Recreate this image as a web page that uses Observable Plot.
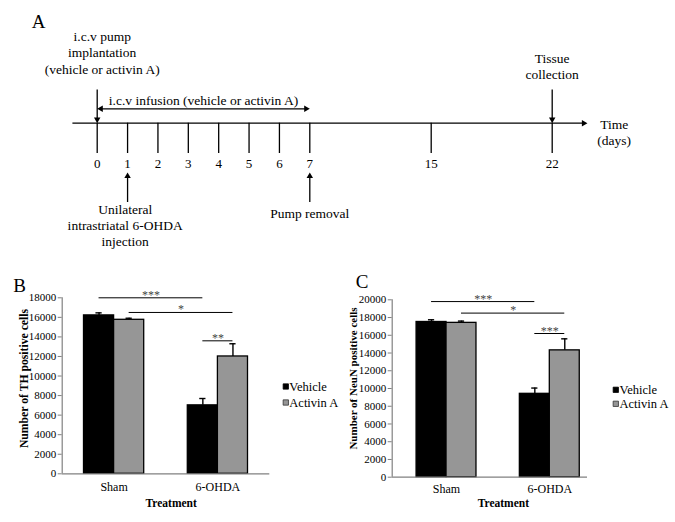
<!DOCTYPE html>
<html><head><meta charset="utf-8">
<script src="https://cdn.jsdelivr.net/npm/d3@7"></script>
<script src="https://cdn.jsdelivr.net/npm/@observablehq/plot@0.6"></script>
<style>
body{margin:0;background:#fff;}
#fig{position:relative;width:675px;height:522px;overflow:hidden;background:#fff;}
#fig .panel{position:absolute;}
#fig svg, #fig svg text{font-family:"Liberation Serif","Times New Roman",Times,serif;}
</style></head><body><div id="fig"></div>
<script>
// ---------- Panel A: timeline data ----------
const timelineDays = [0, 1, 2, 3, 4, 5, 6, 7, 15, 22];
const timelineKnots = [0, 7, 15, 22];
const eventsAbove = [
  {day: 0, text: "i.c.v pump\nimplantation\n(vehicle or activin A)"},
  {day: 22, text: "Tissue\ncollection"}
];
const eventsBelow = [
  {day: 1, text: "Unilateral\nintrastriatal 6-OHDA\ninjection"},
  {day: 7, text: "Pump removal"}
];
const infusion = {start: 0, end: 7, text: "i.c.v infusion (vehicle or activin A)"};
const timeAxisTitle = "Time\n(days)";

// ---------- Panels B, C: bar data ----------
const treatments = ["Sham", "6-OHDA"];
const groups = ["Vehicle", "Activin A"];
const thVehicle = [16200, 7000];
const thActivin = [15750, 12000];
const thVehicleErr = [260, 700];
const thActivinErr = [160, 1300];
const neunVehicle = [17500, 9400];
const neunActivin = [17400, 14300];
const neunVehicleErr = [250, 650];
const neunActivinErr = [200, 1300];
const sigPairs = [
  [["Sham", "Vehicle"], ["6-OHDA", "Vehicle"]],
  [["Sham", "Activin A"], ["6-OHDA", "Activin A"]],
  [["6-OHDA", "Vehicle"], ["6-OHDA", "Activin A"]]
];
const thSigLevels = [18000, 16500, 13600];
const thSigLabels = ["***", "*", "**"];
const neunSigLevels = [19800, 18500, 16200];
const neunSigLabels = ["***", "*", "***"];

const STYLE = "font-family:'Liberation Serif','Times New Roman',Times,serif;background:transparent;overflow:visible;color:black;";
const fig = document.getElementById("fig");
function mount(node, left, top) {
  const d = document.createElement("div");
  d.className = "panel"; d.style.left = left + "px"; d.style.top = top + "px";
  d.appendChild(node); fig.appendChild(d);
}

// triangle arrowhead helper (tip offset from centroid)
const headR = 2.4;
const tipOff = 2 * Math.sqrt(Math.PI * headR * headR / (3 * Math.sqrt(3)));
function head(data, opts) {
  return Plot.dot(data, {symbol: "triangle", r: headR, fill: "black", stroke: "none", ...opts});
}

// ---------- Panel A ----------
const LA = {
  knotPx: [96.7, 309.3, 430.7, 551.7],
  axisY: 122.7, axisFrom: -0.8, axisTo: 24.04,
  tickBottom: 153, tickLabelY: 163,
  aboveTop: 89.5, belowTip: 172, belowBottom: 202,
  infusionY: 108.3, infusionTextY: 99.5,
  aboveBase: {0: 73, 22: 78.5}, aboveDx: {0: 5, 22: 0},
  belowTop: {1: 201.8, 7: 205.8}, belowDx: {1: -2.4, 7: 0}
};
const txtA = {fontSize: 13.5, fill: "black", lineHeight: 1.2, textAnchor: "middle"};
const plotA = Plot.plot({
  width: 675, height: 270, margin: 0,
  x: {type: "linear", domain: timelineKnots, range: LA.knotPx, axis: null},
  y: {type: "identity", axis: null},
  style: STYLE,
  marks: [
    Plot.ruleY([LA.axisY], {x1: LA.axisFrom, x2: LA.axisTo, strokeWidth: 1.3, insetRight: 3}),
    head([LA.axisTo], {x: d => d, y: LA.axisY, rotate: 90, dx: -tipOff}),
    Plot.ruleX(timelineDays, {x: d => d, y1: LA.axisY, y2: LA.tickBottom, strokeWidth: 1.3}),
    Plot.text(timelineDays, {x: d => d, y: LA.tickLabelY, text: d => String(d), fontSize: 13, fill: "black"}),
    Plot.ruleX(eventsAbove, {x: "day", y1: LA.aboveTop, y2: LA.axisY - 3, strokeWidth: 1.3}),
    head(eventsAbove, {x: "day", y: LA.axisY, rotate: 180, dy: -tipOff}),
    Plot.ruleX(eventsBelow, {x: "day", y1: LA.belowTip + 3, y2: LA.belowBottom, strokeWidth: 1.3}),
    head(eventsBelow, {x: "day", y: LA.belowTip, rotate: 0, dy: tipOff}),
    Plot.ruleY([infusion], {y: LA.infusionY, x1: "start", x2: "end", strokeWidth: 1.3, insetLeft: 3, insetRight: 3}),
    head([infusion], {x: "start", y: LA.infusionY, rotate: -90, dx: tipOff}),
    head([infusion], {x: "end", y: LA.infusionY, rotate: 90, dx: -tipOff}),
    Plot.text([infusion], {x: d => (d.start + d.end) / 2, y: LA.infusionTextY, text: "text", ...txtA}),
    ...eventsAbove.map(e => Plot.text([e], {x: "day", y: LA.aboveBase[e.day], dx: LA.aboveDx[e.day], text: "text", lineAnchor: "bottom", ...txtA})),
    ...eventsBelow.map(e => Plot.text([e], {x: "day", y: LA.belowTop[e.day], dx: LA.belowDx[e.day], text: "text", lineAnchor: "top", ...txtA})),
    Plot.text([timeAxisTitle], {x: 22, y: 116.8, dx: 62, text: d => d, lineAnchor: "top", ...txtA}),
    Plot.text(["A"], {frameAnchor: "top-left", dx: 38, dy: 21, text: d => d, fontSize: 19, fill: "black", textAnchor: "middle", lineAnchor: "middle"})
  ]
});
mount(plotA, 0, 0);

// ---------- Panels B and C ----------
const barW = 0.29;
const barColors = ["#000000", "#969696"];
const center = (t, g) => treatments.indexOf(t) + (groups.indexOf(g) - 0.5) * barW;

function barPanel(c) {
  const rows = [];
  treatments.forEach((t, i) => {
    rows.push({t, i, g: groups[0], gi: 0, value: c.vehicle[i], err: c.vehicleErr[i]});
    rows.push({t, i, g: groups[1], gi: 1, value: c.activin[i], err: c.activinErr[i]});
  });
  const comps = sigPairs.map((p, k) => ({a: p[0], b: p[1], level: c.levels[k], label: c.labels[k]}));
  const place = (label, px, py, o) => Plot.text([label], {frameAnchor: "top-left", dx: px - c.mL, dy: py - c.mT, text: d => d, fill: "black", textAnchor: "middle", lineAnchor: "middle", ...o});
  return Plot.plot({
    width: c.W, height: c.H,
    marginLeft: c.mL, marginRight: c.mR, marginTop: c.mT, marginBottom: c.mB,
    x: {type: "linear", domain: c.xDomain, axis: null},
    y: {type: "linear", domain: [0, c.yMax], axis: null},
    color: {domain: groups, range: barColors},
    style: STYLE,
    marks: [
      Plot.axisY({ticks: d3.range(0, c.yMax + 1, 2000), tickFormat: "d", tickSize: 4, tickPadding: 2, fontSize: 11, stroke: "#808080", fill: "black", label: null}),
      Plot.ruleX([c.xDomain[0]], {stroke: "#808080", strokeWidth: 1.2}),
      Plot.rect(rows, {x1: d => d.i + (d.gi - 1) * barW, x2: d => d.i + d.gi * barW, y1: 0, y2: "value", fill: "g", stroke: "black", strokeWidth: 1.3}),
      Plot.ruleY([0], {stroke: "#808080", strokeWidth: 1.2}),
      Plot.ruleX(rows, {x: d => center(d.t, d.g), y1: "value", y2: d => d.value + d.err, stroke: "black", strokeWidth: 1.4}),
      Plot.ruleY(rows, {y: d => d.value + d.err, x1: d => center(d.t, d.g) - 0.03, x2: d => center(d.t, d.g) + 0.03, stroke: "black", strokeWidth: 1.4}),
      Plot.ruleY(comps, {y: "level", x1: d => center(...d.a), x2: d => center(...d.b), stroke: "black", strokeWidth: 1}),
      Plot.text(comps, {x: d => (center(...d.a) + center(...d.b)) / 2, y: "level", text: "label", lineAnchor: "bottom", dy: 1, fontSize: 12, fill: "#444"}),
      Plot.text(treatments, {x: (d, i) => i, frameAnchor: "bottom", dy: c.tickDy, text: d => d, fontSize: 12, fill: "black", lineAnchor: "middle"}),
      Plot.text(["Treatment"], {x: 0.55, frameAnchor: "bottom", dy: c.titleDy, text: d => d, fontSize: 11.5, fontWeight: "bold", fill: "black", lineAnchor: "middle"}),
      ...groups.map((g, k) => Plot.dot([g], {frameAnchor: "right", dx: c.legSq, dy: c.legDy + k * c.legGap, symbol: "square", r: 3, fill: d => d, stroke: k ? "#333" : "black", strokeWidth: 0.8})),
      ...groups.map((g, k) => Plot.text([g], {frameAnchor: "right", dx: c.legTx, dy: c.legDy + k * c.legGap, text: d => d, textAnchor: "start", lineAnchor: "middle", fontSize: 12.5, fill: "black"})),
      place(c.yLabel, c.yLabX, c.yLabY, {rotate: -90, fontSize: c.yLabSize, fontWeight: "bold"}),
      place(c.letter, c.letX, c.letY, {fontSize: 19})
    ]
  });
}

mount(barPanel({
  letter: "B", letX: 19, letY: 15,
  yLabel: "Number of TH positive cells", yLabX: 23.3, yLabY: 108, yLabSize: 11.7,
  vehicle: thVehicle, activin: thActivin, vehicleErr: thVehicleErr, activinErr: thActivinErr,
  levels: thSigLevels, labels: thSigLabels,
  yMax: 18000, W: 337, H: 252, mL: 61.7, mR: 67.7, mT: 27.3, mB: 48.7,
  xDomain: [-0.5, 1.5], tickDy: 13.4, titleDy: 30,
  legSq: 16, legTx: 19.5, legDy: 0.7, legGap: 16
}), 0, 270);

mount(barPanel({
  letter: "C", letX: 24.7, letY: 11.7,
  yLabel: "Number of NeuN positive cells", yLabX: 16, yLabY: 108, yLabSize: 11,
  vehicle: neunVehicle, activin: neunActivin, vehicleErr: neunVehicleErr, activinErr: neunActivinErr,
  levels: neunSigLevels, labels: neunSigLabels,
  yMax: 20000, W: 338, H: 252, mL: 54.7, mR: 88, mT: 29.3, mB: 45.3,
  xDomain: [-0.526, 1.365], tickDy: 11.6, titleDy: 26.6,
  legSq: 28.3, legTx: 32, legDy: 1.3, legGap: 14
}), 337, 270);
</script></body></html>
